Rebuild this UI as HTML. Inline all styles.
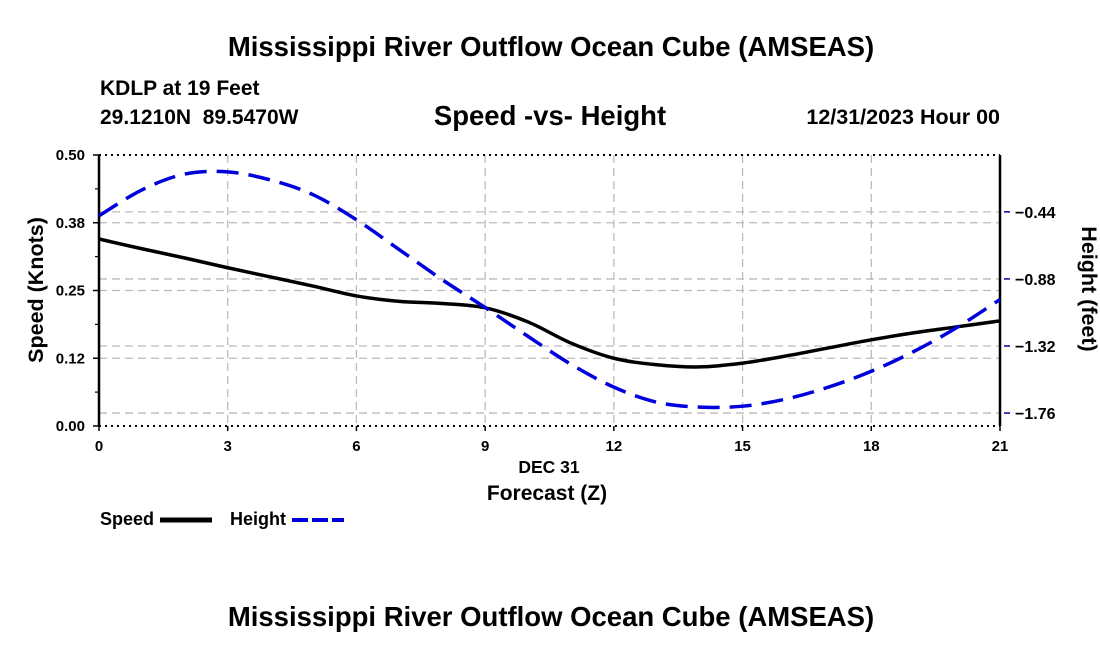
<!DOCTYPE html>
<html><head><meta charset="utf-8">
<style>
body{margin:0;background:#fff;width:1100px;height:650px;overflow:hidden;font-family:"Liberation Sans",sans-serif;}
svg text{font-family:"Liberation Sans",sans-serif;font-weight:bold;fill:#000;}
</style></head>
<body>
<svg id="chart" width="1100" height="650">
<text x="551" y="56" font-size="27.5" text-anchor="middle">Mississippi River Outflow Ocean Cube (AMSEAS)</text>
<text x="100" y="95" font-size="21">KDLP at 19 Feet</text>
<text x="100" y="124" font-size="21" xml:space="preserve">29.1210N  89.5470W</text>
<text x="550" y="125" font-size="27.5" text-anchor="middle">Speed -vs- Height</text>
<text x="1000" y="124" font-size="21.5" text-anchor="end">12/31/2023 Hour 00</text>
<g id="grid"></g>
<g id="axes"></g>
<g id="series"></g>
<text x="549" y="473" font-size="17.5" text-anchor="middle">DEC 31</text>
<text x="547" y="500" font-size="21" text-anchor="middle">Forecast (Z)</text>
<text transform="translate(43,290) rotate(-90)" font-size="21.5" text-anchor="middle">Speed (Knots)</text>
<text transform="translate(1082,289) rotate(90)" font-size="21.5" text-anchor="middle">Height (feet)</text>
<g>
<text x="100" y="525" font-size="18">Speed</text>
<line x1="160" y1="520" x2="212" y2="520" stroke="#000" stroke-width="5"/>
</g>
<g>
<text x="230" y="525" font-size="18">Height</text>
<line x1="292" y1="520" x2="344" y2="520" stroke="#0000dd" stroke-width="4" stroke-dasharray="16,4"/>
</g>
<text x="551" y="626" font-size="27.5" text-anchor="middle">Mississippi River Outflow Ocean Cube (AMSEAS)</text>
</svg>
<script>
const hours=[0,1,2,3,4,5,6,7,8,9,10,11,12,13,14,15,16,17,18,19,20,21];
const speed=[0.345,0.327,0.310,0.292,0.275,0.258,0.240,0.230,0.226,0.218,0.192,0.153,0.125,0.113,0.109,0.116,0.129,0.144,0.159,0.172,0.183,0.194];
const height=[-0.466,-0.296,-0.192,-0.178,-0.231,-0.329,-0.492,-0.688,-0.885,-1.068,-1.257,-1.44,-1.59,-1.689,-1.721,-1.715,-1.669,-1.59,-1.486,-1.355,-1.198,-1.015];
const xTicks=[0,3,6,9,12,15,18,21];
const speedTicks=[0,0.125,0.25,0.375,0.5];
const speedTickLabels=["0.00","0.12","0.25","0.38","0.50"];
const heightTicks=[-0.44,-0.88,-1.32,-1.76];
const heightTickLabels=["\u22120.44","\u22120.88","\u22121.32","\u22121.76"];
const L=99,R=1000,T=155,B=426;
const hTop=-0.067,hBot=-1.845;
const xs=h=>L+(h-0)/(21-0)*(R-L);
const ys=v=>B-v/0.5*(B-T);
const yh=v=>T+(hTop-v)/(hTop-hBot)*(B-T);
const NS="http://www.w3.org/2000/svg";
function mk(parent,tag,attrs){const e=document.createElementNS(NS,tag);for(const k in attrs)e.setAttribute(k,attrs[k]);document.getElementById(parent).appendChild(e);return e;}
xTicks.forEach(t=>{if(t>0&&t<21){const e=mk('grid','line',{x1:xs(t),x2:xs(t),y1:T,y2:B,stroke:'#bbb','stroke-width':1.3,'stroke-dasharray':'8,5'});

}});
speedTicks.forEach(t=>{if(t>0&&t<0.5){const e=mk('grid','line',{x1:L,x2:R,y1:ys(t),y2:ys(t),stroke:'#bbb','stroke-width':1.3,'stroke-dasharray':'8,5'});

}});
heightTicks.forEach(t=>{const e=mk('grid','line',{x1:L,x2:R,y1:yh(t),y2:yh(t),stroke:'#bbb','stroke-width':1.3,'stroke-dasharray':'8,5'});

});
mk('axes','line',{x1:L,x2:L,y1:T,y2:B,stroke:'#000','stroke-width':2.5});
mk('axes','line',{x1:R,x2:R,y1:T,y2:B,stroke:'#000','stroke-width':2.5});
mk('axes','line',{x1:L,x2:R,y1:T,y2:T,stroke:'#000','stroke-width':2,'stroke-dasharray':'2,4'});
mk('axes','line',{x1:L,x2:R,y1:B,y2:B,stroke:'#000','stroke-width':2,'stroke-dasharray':'2,4'});
xTicks.forEach(t=>{mk('axes','line',{x1:xs(t),x2:xs(t),y1:B,y2:B+5,stroke:'#000','stroke-width':1.5});
const e=mk('axes','text',{x:xs(t),y:B+25,'font-size':15,'text-anchor':'middle'});e.textContent=t;

});
speedTicks.forEach((t,i)=>{mk('axes','line',{x1:L-6,x2:L,y1:ys(t),y2:ys(t),stroke:'#000','stroke-width':1.5});
const e=mk('axes','text',{x:L-14,y:ys(t)+5,'font-size':15,'text-anchor':'end'});e.textContent=speedTickLabels[i];

});
for(let v=0.0625;v<0.5;v+=0.125){mk('axes','line',{x1:L-4,x2:L,y1:ys(v),y2:ys(v),stroke:'#000','stroke-width':1.2});}
heightTicks.forEach((t,i)=>{mk('axes','line',{x1:R+4,x2:R+10,y1:yh(t),y2:yh(t),stroke:'#0000aa','stroke-width':1.5});
const e=mk('axes','text',{x:R+15,y:yh(t)+6,'font-size':16});e.textContent=heightTickLabels[i];

});
function smooth(pts){let d=`M${pts[0][0]},${pts[0][1]}`;for(let i=0;i<pts.length-1;i++){const p0=pts[Math.max(0,i-1)],p1=pts[i],p2=pts[i+1],p3=pts[Math.min(pts.length-1,i+2)];
d+=` C${p1[0]+(p2[0]-p0[0])/6},${p1[1]+(p2[1]-p0[1])/6} ${p2[0]-(p3[0]-p1[0])/6},${p2[1]-(p3[1]-p1[1])/6} ${p2[0]},${p2[1]}`;}return d;}
const sp=mk('series','path',{d:smooth(hours.map((h,i)=>[xs(h),ys(speed[i])])),fill:'none',stroke:'#000','stroke-width':3.5});


const hp=mk('series','path',{d:smooth(hours.map((h,i)=>[xs(h),yh(height[i])])),fill:'none',stroke:'#0000dd','stroke-width':3.5,'stroke-dasharray':'22,10'});


</script>
</body></html>
